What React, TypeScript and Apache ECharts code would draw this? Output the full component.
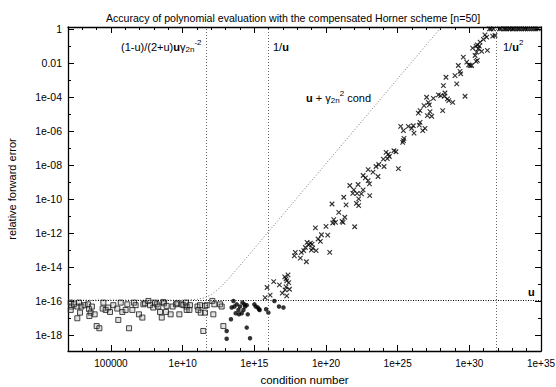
import React, { useEffect, useRef } from 'react';
import * as echarts from 'echarts';

// All values are log10: [log10(condition number), log10(relative forward error)]
const X_MIN = 2;
const X_MAX = 35;
const Y_MIN = -18.95;
const Y_MAX = 0.14;

const xMajorTicks = [5, 10, 15, 20, 25, 30, 35];
const xTickLabels = ['100000', '1e+10', '1e+15', '1e+20', '1e+25', '1e+30', '1e+35'];
const xMinorTicks = [3, 4, 6, 7, 8, 9, 11, 12, 13, 14, 16, 17, 18, 19, 21, 22, 23, 24, 26, 27, 28, 29, 31, 32, 33, 34];

const yMajorTicks = [0, -2, -4, -6, -8, -10, -12, -14, -16, -18];
const yTickLabels = ['1', '0.01', '1e-04', '1e-06', '1e-08', '1e-10', '1e-12', '1e-14', '1e-16', '1e-18'];
const yMinorTicks = [-1, -3, -5, -7, -9, -11, -13, -15, -17];

// vertical threshold lines: (1-u)/(2+u) u gamma^-2, 1/u, 1/u^2
const thresholds = [11.65, 15.95, 31.9];
// horizontal line at u
const uLevel = -15.95;

// bound u + gamma_2n^2 cond
const boundCurve = [
  [2, -15.95], [10, -15.95], [11, -15.91], [11.5, -15.82], [12, -15.63], [12.5, -15.3],
  [13, -14.87], [13.5, -14.4], [14, -13.91], [14.5, -13.41], [15, -12.91], [16, -11.91],
  [20, -7.91], [28.5, 0.59],
];

const squarePoints = [
  [2.19, -16.1], [2.23, -16.33], [2.19, -16.53], [2.42, -16.2], [2.65, -16.33], [2.77, -16.1],
  [2.84, -16.69], [2.65, -17.02], [2.93, -16.33], [3.16, -16.25], [3.4, -16.2], [3.47, -16.49],
  [3.58, -16.69], [3.49, -16.89], [3.67, -16.33], [3.86, -16.79], [4.0, -17.48], [4.19, -17.61],
  [4.47, -16.1], [4.42, -16.45], [4.63, -16.53], [4.81, -16.39], [4.93, -16.65], [5.16, -16.25],
  [5.44, -16.45], [5.51, -17.12], [5.68, -16.1], [5.79, -16.65], [6.02, -16.53], [6.14, -16.2],
  [6.26, -17.61], [6.49, -16.53], [6.61, -16.1], [6.72, -16.25], [6.95, -16.79], [7.19, -16.98],
  [7.26, -16.2], [7.37, -16.14], [7.61, -16.0], [7.72, -16.25], [7.95, -16.39], [8.07, -16.1],
  [8.19, -16.2], [8.3, -16.33], [8.42, -16.65], [8.54, -16.98], [8.65, -16.06], [8.7, -16.14],
  [8.84, -16.65], [8.88, -16.29], [9.16, -16.79], [9.3, -16.33], [9.54, -16.2], [9.63, -16.14],
  [9.77, -16.79], [9.93, -16.2], [10.05, -16.25], [10.23, -16.1], [10.28, -16.33], [10.28, -16.53],
  [10.47, -16.53], [10.51, -16.25], [11.03, -16.33], [11.09, -16.53], [11.21, -16.25], [11.26, -16.69],
  [11.44, -17.77], [11.56, -16.29], [11.68, -16.25], [11.56, -16.69], [12.07, -16.0], [12.14, -16.79],
  [12.21, -16.2], [12.61, -16.2], [12.72, -16.33], [12.84, -17.48],
];

const circlePoints = [
  [13.54, -16.0], [13.77, -16.2], [13.42, -16.39], [14.0, -16.33], [14.17, -16.1], [14.31, -16.2],
  [14.35, -16.33], [14.47, -16.25], [13.89, -16.53], [13.7, -16.73], [14.12, -16.73], [13.93, -16.79],
  [14.54, -16.79], [13.37, -17.08], [13.07, -17.77], [13.07, -18.23], [14.47, -17.57], [14.7, -18.2],
  [15.0, -16.2], [15.1, -16.33], [15.24, -16.39], [15.33, -16.49], [15.37, -16.53], [15.82, -16.49],
  [15.98, -16.69], [16.4, -16.0], [16.72, -16.33], [17.03, -16.39], [13.61, -16.33], [14.24, -16.53],
];

const crossPoints = [
  [15.75, -15.8], [16.1, -15.66], [16.95, -15.54], [17.26, -15.7], [17.14, -15.35],
  [15.89, -15.21], [16.35, -14.86], [16.75, -15.05], [17.21, -15.17], [17.45, -15.31], [17.35, -14.46],
  [17.12, -14.58], [17.21, -14.7], [17.26, -14.82], [17.4, -14.92],
  [18.63, -13.69], [18.21, -13.48], [17.79, -13.34], [17.86, -13.14], [18.28, -13.14], [20.26, -13.14],
  [18.45, -13.04], [18.98, -13.01], [19.31, -13.04], [18.56, -12.85], [19.07, -12.89], [18.79, -12.71],
  [19.03, -12.65], [18.91, -12.59], [18.68, -12.55], [19.61, -12.49], [19.45, -12.35], [20.12, -12.12],
  [19.68, -12.1], [22.0, -11.63], [19.26, -11.7], [20.0, -11.61], [21.19, -11.37], [20.66, -11.37],
  [20.47, -11.41], [20.54, -11.21], [21.12, -11.31], [21.31, -11.07], [20.89, -10.78],
  [22.28, -10.38], [22.12, -10.25], [20.42, -10.29], [21.4, -10.34], [21.24, -9.89], [22.28, -9.99],
  [23.05, -9.79], [22.47, -9.69], [22.59, -9.46], [22.17, -9.66], [21.87, -9.66], [21.94, -9.46],
  [22.24, -9.14], [21.66, -9.2], [23.63, -8.67], [23.03, -9.1], [22.94, -8.91], [22.75, -8.75],
  [22.59, -8.61], [22.94, -8.26], [23.28, -8.41], [23.49, -8.08], [23.68, -7.96],
  [24.05, -8.08], [25.05, -8.2], [24.0, -7.65], [24.28, -7.61], [24.42, -7.49], [24.35, -7.35],
  [24.19, -7.25], [24.88, -7.21], [24.74, -7.15], [25.35, -6.66], [25.4, -6.56], [25.44, -6.42],
  [25.4, -5.97], [25.21, -5.72], [25.74, -5.72], [25.98, -5.83], [26.09, -5.68], [26.14, -6.11],
  [26.75, -5.97], [26.91, -5.83], [26.51, -5.64], [26.56, -5.48], [28.14, -4.79], [26.44, -4.93],
  [26.56, -4.79], [27.37, -5.12], [27.07, -5.08], [27.26, -4.85], [26.84, -4.49], [27.21, -4.45],
  [27.14, -4.3], [27.49, -4.06], [27.02, -4.0], [29.7, -3.94], [28.84, -4.3], [28.56, -4.2],
  [28.47, -4.1], [28.26, -3.94], [28.3, -3.75], [28.0, -3.9], [27.84, -3.86], [28.19, -3.31],
  [29.12, -3.21], [28.37, -2.82], [29.0, -2.72], [29.4, -2.62], [29.35, -2.48], [29.23, -2.13],
  [30.16, -2.13], [29.95, -2.09], [30.05, -2.13], [30.56, -1.83], [30.47, -1.89], [29.82, -1.93],
  [29.58, -1.64], [30.4, -1.54], [31.26, -1.24], [30.51, -1.34], [30.86, -1.3], [30.23, -1.11],
  [30.63, -1.14], [30.7, -0.99], [30.47, -0.99], [30.56, -0.91], [30.75, -0.75], [30.98, -0.59],
  [31.21, -0.46], [31.09, -0.32], [31.63, -0.4], [31.79, -0.36],
  [31.4, 0.03], [31.51, 0.03], [31.68, 0.03], [32.1, 0.03], [32.2, 0.03], [32.4, 0.03], [32.5, 0.03],
  [32.6, 0.03], [32.75, 0.03], [32.85, 0.03], [33.0, 0.03], [33.1, 0.03], [33.25, 0.03], [33.4, 0.03],
  [33.5, 0.03], [33.65, 0.03], [33.8, 0.03], [33.9, 0.03], [34.05, 0.03], [34.2, 0.03], [34.35, 0.03],
  [34.5, 0.03], [34.65, 0.03], [34.8, 0.03],
];

const FONT = '"Liberation Sans", Arial, Helvetica, sans-serif';
const TITLE = 'Accuracy of polynomial evaluation with the compensated Horner scheme [n=50]';

function makeXAxis(position: string, ticks: number[], len: number, main: boolean, labels: boolean) {
  return {
    type: 'value',
    position,
    min: X_MIN,
    max: X_MAX,
    splitLine: { show: false },
    axisLine: { show: main, onZero: false, lineStyle: { color: '#000', width: 1.3 } },
    axisTick: { show: true, inside: true, length: len, customValues: ticks, lineStyle: { color: '#000', width: 1 } },
    axisLabel: labels
      ? {
          show: true,
          customValues: xMajorTicks,
          formatter: (v: number) => xTickLabels[xMajorTicks.indexOf(Math.round(v))] ?? '',
          color: '#000',
          fontSize: 10,
          fontFamily: FONT,
          margin: 7,
        }
      : { show: false },
    name: labels ? 'condition number' : '',
    nameLocation: 'middle',
    nameGap: 23,
    nameTextStyle: { color: '#000', fontSize: 11.5, fontFamily: FONT },
  };
}

function makeYAxis(position: string, ticks: number[], len: number, main: boolean, labels: boolean) {
  return {
    type: 'value',
    position,
    min: Y_MIN,
    max: Y_MAX,
    splitLine: { show: false },
    axisLine: { show: main, onZero: false, lineStyle: { color: '#000', width: 1.3 } },
    axisTick: { show: true, inside: true, length: len, customValues: ticks, lineStyle: { color: '#000', width: 1 } },
    axisLabel: labels
      ? {
          show: true,
          customValues: yMajorTicks,
          formatter: (v: number) => yTickLabels[yMajorTicks.indexOf(Math.round(v))] ?? '',
          color: '#000',
          fontSize: 10.5,
          fontFamily: FONT,
          margin: 6,
        }
      : { show: false },
    name: labels ? 'relative forward error' : '',
    nameLocation: 'middle',
    nameGap: 51,
    nameTextStyle: { color: '#000', fontSize: 11, fontFamily: FONT },
  };
}

const rich = {
  n: { fontSize: 11, fontFamily: FONT, fill: '#000' },
  b: { fontSize: 11, fontFamily: FONT, fontWeight: 'bold', fill: '#000' },
  sub: { fontSize: 8, fontFamily: FONT, fill: '#000', padding: [5, 0, 0, 0] },
  sup: { fontSize: 8, fontFamily: FONT, fill: '#000', padding: [0, 0, 10, 0] },
};

function annot(text: string, x: number, y: number) {
  return {
    type: 'text',
    x,
    y,
    silent: true,
    style: {
      text,
      rich,
      fill: '#000',
      font: `11px ${FONT}`,
      align: 'left',
      textAlign: 'left',
      verticalAlign: 'middle',
      textVerticalAlign: 'middle',
    },
  };
}

export default function App() {
  const ref = useRef<HTMLDivElement>(null);
  useEffect(() => {
    if (!ref.current) return;
    const chart = echarts.init(ref.current, null, { renderer: 'svg' });
    const option: any = {
      animation: false,
      backgroundColor: '#fff',
      title: {
        text: TITLE,
        left: 288,
        top: 7,
        textAlign: 'center',
        textStyle: { fontSize: 10.6, fontWeight: 'normal', fontFamily: FONT, color: '#000' },
      },
      grid: { left: 68, right: 15, top: 27, bottom: 36, containLabel: false, outerBoundsMode: 'none' },
      xAxis: [
        makeXAxis('bottom', xMajorTicks, 6, true, true),
        makeXAxis('bottom', xMinorTicks, 3, false, false),
        makeXAxis('top', xMajorTicks, 6, true, false),
        makeXAxis('top', xMinorTicks, 3, false, false),
      ],
      yAxis: [
        makeYAxis('left', yMajorTicks, 6, true, true),
        makeYAxis('left', yMinorTicks, 3, false, false),
        makeYAxis('right', yMajorTicks, 6, true, false),
        makeYAxis('right', yMinorTicks, 3, false, false),
      ],
      series: [
        {
          type: 'line',
          data: boundCurve,
          xAxisIndex: 0,
          yAxisIndex: 0,
          symbol: 'none',
          showSymbol: false,
          clip: true,
          silent: true,
          lineStyle: { color: '#777', width: 1, type: [1, 2] },
          markLine: {
            silent: true,
            symbol: 'none',
            label: { show: false },
            data: [
              ...thresholds.map((v) => ({ xAxis: v, lineStyle: { color: '#666', width: 1, type: [1, 2] } })),
              { yAxis: uLevel, lineStyle: { color: '#000', width: 1, type: [1, 1.5] } },
            ],
          },
        },
        {
          type: 'scatter',
          data: squarePoints,
          xAxisIndex: 0,
          yAxisIndex: 0,
          symbol: 'rect',
          symbolSize: 5,
          itemStyle: { color: 'rgba(150,150,150,0.35)', borderColor: '#1a1a1a', borderWidth: 1 },
        },
        {
          type: 'scatter',
          data: circlePoints,
          xAxisIndex: 0,
          yAxisIndex: 0,
          symbol: 'circle',
          symbolSize: 4.5,
          itemStyle: { color: '#000' },
        },
        {
          type: 'scatter',
          data: crossPoints,
          xAxisIndex: 0,
          yAxisIndex: 0,
          symbol: 'path://M0 0L10 10M10 0L0 10',
          symbolSize: 4.5,
          itemStyle: { color: '#000', borderColor: '#000', borderWidth: 1.15 },
        },
      ],
      graphic: [
        annot('{n|(1-u)/(2+u)}{b|u}{n|γ}{sub|2n}{sup|-2}', 121, 47),
        annot('{n|1/}{b|u}', 273, 47),
        annot('{b|u}{n| + γ}{sub|2n}{sup|2}{n| cond}', 306, 98),
        annot('{n|1/}{b|u}{sup|2}', 503, 47),
        annot('{b|u}', 528, 292),
      ],
    };
    chart.setOption(option);
    return () => chart.dispose();
  }, []);
  return <div ref={ref} style={{ position: 'absolute', left: 0, top: 0, width: 556, height: 387 }} />;
}
